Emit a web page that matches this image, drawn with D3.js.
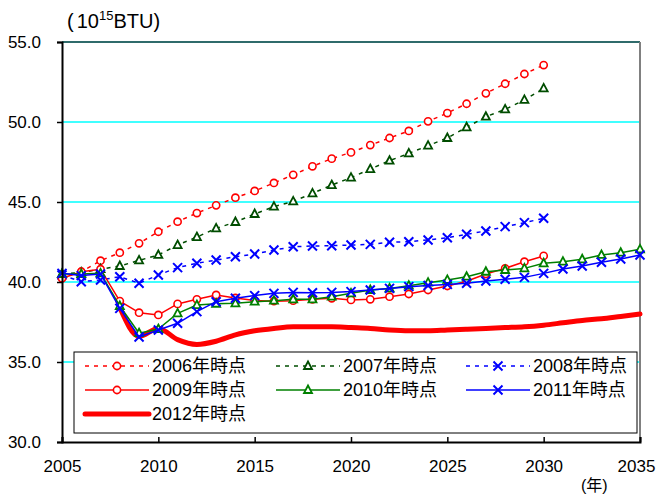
<!DOCTYPE html>
<html>
<head>
<meta charset="utf-8">
<script src="https://cdn.jsdelivr.net/npm/d3@7"></script>
<style>
  body { margin: 0; background: #fff; }
  text { font-family: "Liberation Sans", Arial, "Noto Sans CJK JP", sans-serif; fill: #000; }
</style>
</head>
<body>
<script>
// years
var years05to30 = [2005, 2006, 2007, 2008, 2009, 2010, 2011, 2012, 2013, 2014, 2015, 2016, 2017,
  2018, 2019, 2020, 2021, 2022, 2023, 2024, 2025, 2026, 2027, 2028, 2029, 2030];
var years05to35 = years05to30.concat([2031, 2032, 2033, 2034, 2035]);
var years08to35 = years05to35.slice(3);

// series values (10^15 BTU)
var v2006 = [40.27, 40.64, 41.33, 41.83, 42.42, 43.14, 43.77, 44.31, 44.79, 45.27, 45.69, 46.19, 46.7,
  47.23, 47.71, 48.1, 48.56, 49.0, 49.44, 50.04, 50.56, 51.14, 51.79, 52.39, 53.0, 53.56];
var v2007 = [40.5, 40.6, 40.8, 41.0, 41.35, 41.69, 42.31, 42.81, 43.35, 43.75, 44.25, 44.71, 45.04,
  45.54, 46.06, 46.52, 47.06, 47.58, 48.04, 48.52, 49.0, 49.67, 50.33, 50.79, 51.38, 52.1];
var v2008 = [40.44, 40.02, 40.13, 40.33, 39.92, 40.44, 40.9, 41.17, 41.37, 41.58, 41.75, 42.0, 42.2,
  42.25, 42.27, 42.31, 42.35, 42.48, 42.52, 42.63, 42.77, 42.98, 43.19, 43.46, 43.71, 43.98];
var v2009 = [40.23, 40.64, 40.8, 38.81, 38.08, 37.94, 38.63, 38.92, 39.19, 39.0, 38.85, 38.8, 38.83,
  38.92, 38.98, 38.88, 38.92, 39.08, 39.25, 39.5, 39.75, 40.05, 40.5, 40.85, 41.27, 41.63];
var v2010 = [40.5, 40.5, 40.54, 38.5, 36.8, 37.06, 38.04, 38.56, 38.64, 38.67, 38.77, 38.83, 38.92,
  38.92, 39.08, 39.29, 39.5, 39.6, 39.77, 39.96, 40.13, 40.33, 40.64, 40.75, 40.85, 41.17,
  41.27, 41.42, 41.69, 41.83, 42.04];
var v2011 = [40.54, 40.4, 40.5, 38.35, 36.56, 37.0, 37.42, 38.15, 38.77, 38.98, 39.15, 39.29, 39.35,
  39.33, 39.35, 39.4, 39.5, 39.6, 39.71, 39.78, 39.85, 39.92, 40.06, 40.17, 40.29, 40.54,
  40.81, 41.0, 41.23, 41.44, 41.69];
var v2012 = [38.4, 36.6, 37.1, 36.4, 36.1, 36.3, 36.7, 36.95, 37.1, 37.2, 37.2, 37.2, 37.15, 37.1,
  37.0, 36.95, 36.95, 37.0, 37.05, 37.1, 37.15, 37.2, 37.3, 37.45, 37.6, 37.7, 37.85, 38.0];

var seriesNames = ["2006年時点", "2007年時点", "2008年時点", "2009年時点", "2010年時点", "2011年時点", "2012年時点"];
var xTicks = [2005, 2010, 2015, 2020, 2025, 2030, 2035];
var yTicks = [30, 35, 40, 45, 50, 55];

var series = [
  {name: seriesNames[0], years: years05to30, values: v2006, color: "#ff0000", dash: "4,5", marker: "circle", width: 1.5},
  {name: seriesNames[1], years: years05to30, values: v2007, color: "#004d00", dash: "4,5", marker: "triangle", width: 1.5},
  {name: seriesNames[2], years: years05to30, values: v2008, color: "#0000ff", dash: "4,5", marker: "cross", width: 1.5},
  {name: seriesNames[3], years: years05to30, values: v2009, color: "#ff0000", dash: null, marker: "circle", width: 1.5},
  {name: seriesNames[4], years: years05to35, values: v2010, color: "#008000", dash: null, marker: "triangle", width: 1.5},
  {name: seriesNames[5], years: years05to35, values: v2011, color: "#0000ff", dash: null, marker: "cross", width: 1.5},
  {name: seriesNames[6], years: years08to35, values: v2012, color: "#ff0000", dash: null, marker: null, width: 5, smooth: true}
];

var W = 657, H = 495;
var plot = {left: 62, right: 640, top: 42, bottom: 442};

var x = d3.scaleLinear().domain([2005, 2035]).range([plot.left, plot.right]);
var y = d3.scaleLinear().domain([30, 55]).range([plot.bottom, plot.top]);

var svg = d3.select("body").append("svg")
    .attr("width", W)
    .attr("height", H);

// gridlines
svg.append("g")
  .selectAll("line")
    .data(yTicks.filter(function(d) { return d > 30 && d < 55; }))
  .enter().append("line")
    .attr("x1", plot.left).attr("x2", plot.right)
    .attr("y1", function(d) { return y(d); })
    .attr("y2", function(d) { return y(d); })
    .attr("stroke", "#00ffff")
    .attr("stroke-width", 1.5);

// frame: top and right
svg.append("line")
    .attr("x1", plot.left).attr("x2", plot.right)
    .attr("y1", y(55)).attr("y2", y(55))
    .attr("stroke", "#2f6b6b").attr("stroke-width", 2);
svg.append("line")
    .attr("x1", plot.right).attr("x2", plot.right)
    .attr("y1", y(55)).attr("y2", y(30))
    .attr("stroke", "#808080").attr("stroke-width", 2);

// marker drawing
function drawMarker(g, type, color, px, py) {
  if (type === "circle") {
    g.append("circle").attr("cx", px).attr("cy", py).attr("r", 3.6)
      .attr("fill", "#fff").attr("stroke", color).attr("stroke-width", 1.6);
  } else if (type === "triangle") {
    g.append("path")
      .attr("d", "M" + px + "," + (py - 4.5) + "L" + (px + 4) + "," + (py + 3) + "L" + (px - 4) + "," + (py + 3) + "Z")
      .attr("fill", "#fff").attr("stroke", color).attr("stroke-width", 1.8);
  } else if (type === "cross") {
    g.append("path")
      .attr("d", "M" + (px - 4.5) + "," + (py - 4.5) + "L" + (px + 4.5) + "," + (py + 4.5) +
                 "M" + (px + 4.5) + "," + (py - 4.5) + "L" + (px - 4.5) + "," + (py + 4.5))
      .attr("fill", "none").attr("stroke", color).attr("stroke-width", 2);
  }
}

// draw the thick 2012 line first so the markers sit on top of it
var drawOrder = [6, 0, 1, 2, 3, 4, 5];
drawOrder.forEach(function(i) {
  var s = series[i];
  var pts = s.values.map(function(v, j) { return [s.years[j], v]; });
  var line = d3.line()
      .x(function(d) { return x(d[0]); })
      .y(function(d) { return y(d[1]); })
      .curve(s.smooth ? d3.curveMonotoneX : d3.curveLinear);
  var g = svg.append("g").attr("class", "series");
  g.append("path")
      .attr("d", line(pts))
      .attr("fill", "none")
      .attr("stroke", s.color)
      .attr("stroke-width", s.width)
      .attr("stroke-linejoin", "round")
      .attr("stroke-linecap", s.smooth ? "round" : "butt")
      .attr("stroke-dasharray", s.dash);
  if (s.marker) {
    pts.forEach(function(p) { drawMarker(g, s.marker, s.color, x(p[0]), y(p[1])); });
  }
});

// axes
var yAxis = d3.axisLeft(y).tickValues(yTicks).tickSize(5).tickFormat(d3.format(".1f"));
var xAxis = d3.axisBottom(x).tickValues(xTicks).tickSize(-5).tickFormat(d3.format("d"));

var gy = svg.append("g")
    .attr("transform", "translate(" + plot.left + ",0)")
    .call(yAxis);
gy.select(".domain").attr("stroke", "#000").attr("stroke-width", 2);
gy.selectAll(".tick line").attr("stroke", "#000").attr("stroke-width", 1.5);
gy.selectAll(".tick text")
    .attr("x", -21)
    .attr("dy", "0.35em")
    .style("font-size", "17px");

var gx = svg.append("g")
    .attr("transform", "translate(0," + plot.bottom + ")")
    .call(xAxis);
gx.select(".domain").attr("stroke", "#000").attr("stroke-width", 2);
gx.selectAll(".tick line").attr("stroke", "#000").attr("stroke-width", 1.5);
gx.selectAll(".tick text")
    .attr("y", 18)
    .attr("dy", "0.71em")
    .style("font-size", "17px");
gx.selectAll(".tick text").filter(function(d) { return d === 2035; })
    .attr("x", -4);

// unit labels
var unit = svg.append("text")
    .attr("x", 67).attr("y", 28)
    .style("font-size", "20px");
unit.append("tspan").text("(");
unit.append("tspan").attr("dx", 3).text("10");
unit.append("tspan").attr("dy", -8).style("font-size", "13px").text("15");
unit.append("tspan").attr("dy", 8).text("BTU)");

svg.append("text")
    .attr("x", 581).attr("y", 491)
    .style("font-size", "16px")
    .text("(年)");

// legend
var legend = svg.append("g");
legend.append("rect")
    .attr("x", 74).attr("y", 352)
    .attr("width", 563).attr("height", 81)
    .attr("fill", "#fff")
    .attr("stroke", "#000")
    .attr("stroke-width", 1);

var colX = [85, 276, 466];
var rowY = [366, 390, 414];
var sampleLen = 64;

series.forEach(function(s, i) {
  var lx = colX[i % 3], ly = rowY[Math.floor(i / 3)];
  var g = legend.append("g");
  g.append("line")
      .attr("x1", lx).attr("x2", lx + sampleLen)
      .attr("y1", ly).attr("y2", ly)
      .attr("stroke", s.color)
      .attr("stroke-width", s.width)
      .attr("stroke-dasharray", s.dash)
      .attr("stroke-linecap", s.smooth ? "round" : "butt");
  if (s.marker) drawMarker(g, s.marker, s.color, lx + sampleLen / 2, ly);
  g.append("text")
      .attr("x", lx + sampleLen + 3)
      .attr("y", ly)
      .attr("dy", "0.36em")
      .style("font-size", "18px")
      .text(s.name);
});
</script>
</body>
</html>
